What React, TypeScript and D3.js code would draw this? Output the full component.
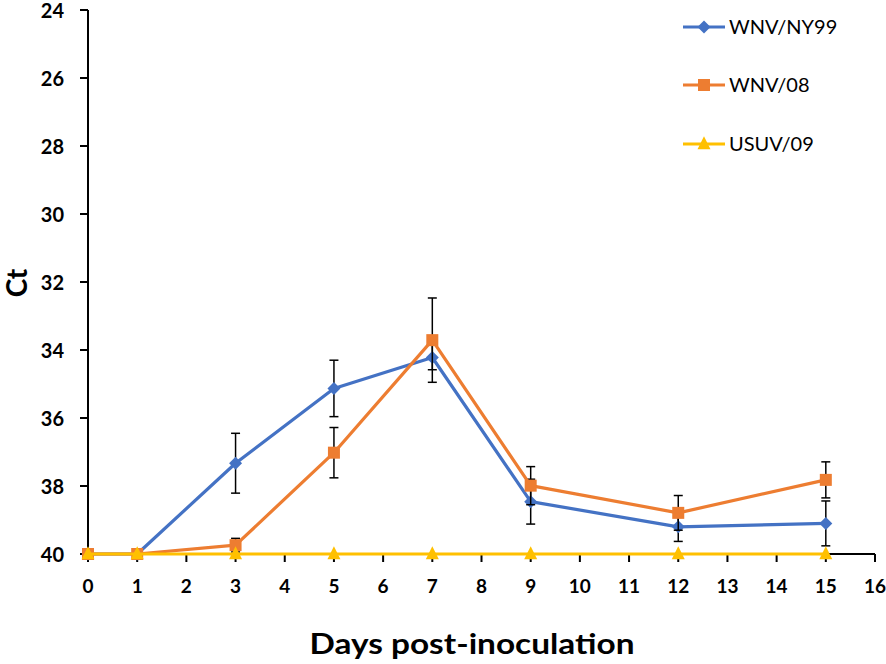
import React from "react";
import * as d3 from "d3";

const days = [0, 1, 3, 5, 7, 9, 12, 15];
const nyValues = [40, 40, 37.33, 35.13, 34.22, 38.46, 39.2, 39.1];
const nyErrors = [0, 0, 0.88, 0.83, 0.36, 0.66, 0.43, 0.66];
const w08Values = [40, 40, 39.74, 37.02, 33.71, 37.99, 38.79, 37.82];
const w08Errors = [0, 0, 0.2, 0.74, 1.24, 0.56, 0.51, 0.53];
const usuvValues = [40, 40, 40, 40, 40, 40, 40, 40];
const usuvErrors = [0, 0, 0, 0, 0, 0, 0, 0];
const xTicks = d3.range(0, 17);
const yTicks = [24, 26, 28, 30, 32, 34, 36, 38, 40];
const seriesNames = ["WNV/NY99", "WNV/08", "USUV/09"];

const W = 886;
const H = 664;
const FONT = "Lato, 'Open Sans', sans-serif";

const x = d3.scaleLinear().domain([0, 16]).range([88, 875]);
const y = d3.scaleLinear().domain([24, 40]).range([10, 554]);

type Series = { name: string; values: number[]; errors: number[]; color: string; marker: string };

const series: Series[] = [
  { name: seriesNames[0], values: nyValues, errors: nyErrors, color: "#4472C4", marker: "diamond" },
  { name: seriesNames[1], values: w08Values, errors: w08Errors, color: "#ED7D31", marker: "square" },
  { name: seriesNames[2], values: usuvValues, errors: usuvErrors, color: "#FFC000", marker: "triangle" },
];

function Marker({ type, cx, cy, color }: { type: string; cx: number; cy: number; color: string }) {
  if (type === "diamond") {
    const r = 6.5;
    return <path d={`M${cx},${cy - r}L${cx + r},${cy}L${cx},${cy + r}L${cx - r},${cy}Z`} fill={color} />;
  }
  if (type === "square") {
    const s = 12;
    return <rect x={cx - s / 2} y={cy - s / 2} width={s} height={s} fill={color} />;
  }
  const s = 13;
  return (
    <path d={`M${cx},${cy - s * 0.6}L${cx + s / 2},${cy + s * 0.4}L${cx - s / 2},${cy + s * 0.4}Z`} fill={color} />
  );
}

export default function App() {
  const line = d3
    .line<[number, number]>()
    .x((d) => x(d[0]))
    .y((d) => y(d[1]));

  return (
    <svg width={W} height={H} style={{ display: "block", position: "absolute", left: 0, top: 0 }}>
      <rect width={W} height={H} fill="#fff" />
      {/* axes */}
      <line x1={x(0)} x2={x(0)} y1={y(24)} y2={y(40)} stroke="#000" strokeWidth={2} />
      <line x1={x(0)} x2={x(16)} y1={y(40)} y2={y(40)} stroke="#000" strokeWidth={2} />
      {yTicks.map((t) => (
        <g key={"y" + t}>
          <line x1={x(0) - 8} x2={x(0)} y1={y(t)} y2={y(t)} stroke="#000" strokeWidth={2} />
          <text
            x={64}
            y={y(t) + 7.5}
            textAnchor="end"
            fontFamily={FONT}
            fontWeight="bold"
            fontSize={20}
          >
            {t}
          </text>
        </g>
      ))}
      {xTicks.map((t) => (
        <g key={"x" + t}>
          <line x1={x(t)} x2={x(t)} y1={y(40)} y2={y(40) + 8} stroke="#000" strokeWidth={2} />
          <text
            x={x(t)}
            y={593}
            textAnchor="middle"
            fontFamily={FONT}
            fontWeight="bold"
            fontSize={19}
          >
            {t}
          </text>
        </g>
      ))}
      <text
        transform={`translate(27,283) rotate(-90)`}
        textAnchor="middle"
        fontFamily={FONT}
        fontWeight="bold"
        fontSize={28}
      >
        Ct
      </text>
      <text
        x={472}
        y={654}
        textAnchor="middle"
        fontFamily={FONT}
        fontWeight="bold"
        fontSize={29}
        textLength={325}
        lengthAdjust="spacingAndGlyphs"
      >
        Days post-inoculation
      </text>
      {/* series */}
      {series.map((s) => (
        <g key={s.name}>
          {days.map((d, i) =>
            s.errors[i] > 0 ? (
              <g key={"e" + d} stroke="#000" strokeWidth={1.5}>
                <line x1={x(d)} x2={x(d)} y1={y(s.values[i] - s.errors[i])} y2={y(s.values[i] + s.errors[i])} />
                <line x1={x(d) - 4.5} x2={x(d) + 4.5} y1={y(s.values[i] - s.errors[i])} y2={y(s.values[i] - s.errors[i])} />
                <line x1={x(d) - 4.5} x2={x(d) + 4.5} y1={y(s.values[i] + s.errors[i])} y2={y(s.values[i] + s.errors[i])} />
              </g>
            ) : null
          )}
          <path
            d={line(days.map((d, i) => [d, s.values[i]] as [number, number])) || ""}
            fill="none"
            stroke={s.color}
            strokeWidth={3.2}
            strokeLinejoin="round"
          />
          {days.map((d, i) => (
            <Marker key={"m" + d} type={s.marker} cx={x(d)} cy={y(s.values[i])} color={s.color} />
          ))}
        </g>
      ))}
      {/* legend */}
      {series.map((s, i) => {
        const ly = [27, 85, 144][i];
        return (
          <g key={"l" + s.name}>
            <line x1={683} x2={725} y1={ly} y2={ly} stroke={s.color} strokeWidth={3.2} />
            <Marker type={s.marker} cx={704} cy={ly} color={s.color} />
            <text x={729} y={ly + 7} fontFamily={FONT} fontSize={20}>
              {s.name}
            </text>
          </g>
        );
      })}
    </svg>
  );
}
